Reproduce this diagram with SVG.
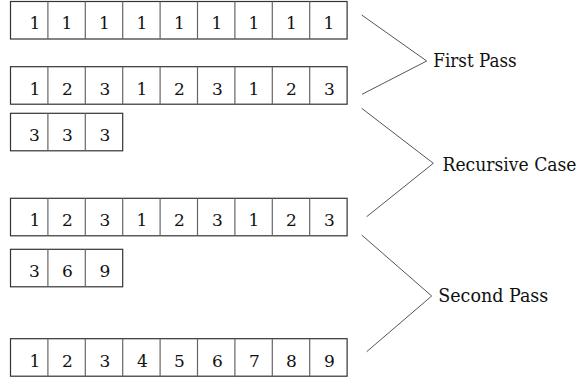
<svg xmlns="http://www.w3.org/2000/svg" width="582" height="377" viewBox="0 0 582 377">
  <style>
    .box { fill: #ffffff; stroke: #333333; stroke-width: 1.2; }
    .div { stroke: #666666; stroke-width: 1.2; }
    .num { font-family: 'DejaVu Serif', serif; font-size: 17px; fill: #111111; text-anchor: middle; }
    .lbl { font-family: 'DejaVu Serif', serif; font-size: 18px; fill: #111111; }
    .con { stroke: #555555; stroke-width: 1; fill: none; }
  </style>
  <defs>
    <!-- one 9-cell array row, 37.4px per cell -->
    <g id="row9">
      <rect class="box" x="10.5" y="0" width="336.6" height="37.5"/>
      <path class="div" d="M47.9 0V37.5M85.3 0V37.5M122.7 0V37.5M160.1 0V37.5M197.5 0V37.5M234.9 0V37.5M272.3 0V37.5M309.7 0V37.5"/>
    </g>
    <!-- three-cell count row -->
    <g id="row3">
      <rect class="box" x="10.5" y="0" width="112.2" height="37.5"/>
      <path class="div" d="M47.9 0V37.5M85.3 0V37.5"/>
    </g>
  </defs>

  <g id="input">
    <use href="#row9" y="1.5"/>
    <g transform="translate(0 28.5)">
      <text class="num" x="35">1</text><text class="num" x="67">1</text><text class="num" x="104.5">1</text><text class="num" x="142">1</text><text class="num" x="179.5">1</text><text class="num" x="217">1</text><text class="num" x="254">1</text><text class="num" x="291.5">1</text><text class="num" x="329">1</text>
    </g>
  </g>

  <g id="first-pass">
    <use href="#row9" y="66.7"/>
    <g transform="translate(0 94.5)">
      <text class="num" x="35">1</text><text class="num" x="67.5">2</text><text class="num" x="105">3</text><text class="num" x="142">1</text><text class="num" x="179.5">2</text><text class="num" x="217.5">3</text><text class="num" x="254">1</text><text class="num" x="291.5">2</text><text class="num" x="329.5">3</text>
    </g>
  </g>

  <g id="counts">
    <use href="#row3" y="113.3"/>
    <g transform="translate(0 141)">
      <text class="num" x="34.5">3</text><text class="num" x="67.5">3</text><text class="num" x="105">3</text>
    </g>
  </g>

  <g id="recursive-input">
    <use href="#row9" y="198.3"/>
    <g transform="translate(0 226)">
      <text class="num" x="35">1</text><text class="num" x="67.5">2</text><text class="num" x="105">3</text><text class="num" x="142">1</text><text class="num" x="179.5">2</text><text class="num" x="217.5">3</text><text class="num" x="254">1</text><text class="num" x="291.5">2</text><text class="num" x="329.5">3</text>
    </g>
  </g>

  <g id="prefix-sums">
    <use href="#row3" y="249.3"/>
    <g transform="translate(0 277)">
      <text class="num" x="34.5">3</text><text class="num" x="67.5">6</text><text class="num" x="105">9</text>
    </g>
  </g>

  <g id="second-pass">
    <use href="#row9" y="338.7"/>
    <g transform="translate(0 366.5)">
      <text class="num" x="35">1</text><text class="num" x="67.5">2</text><text class="num" x="105">3</text><text class="num" x="142.5">4</text><text class="num" x="179.5">5</text><text class="num" x="217.5">6</text><text class="num" x="254.5">7</text><text class="num" x="291.5">8</text><text class="num" x="329.5">9</text>
    </g>
  </g>

  <g id="connectors">
    <polyline class="con" points="361.7,15 426.7,61 362,94.3"/>
    <polyline class="con" points="361.7,108.3 433.3,163.3 366.7,216.7"/>
    <polyline class="con" points="361.7,235 431.7,296 366.7,351.7"/>
  </g>

  <g id="labels">
    <text class="lbl" x="433.3" y="66.5" textLength="83.4" lengthAdjust="spacingAndGlyphs">First Pass</text>
    <text class="lbl" x="442.5" y="171" textLength="134" lengthAdjust="spacingAndGlyphs">Recursive Case</text>
    <text class="lbl" x="438.3" y="302" textLength="110" lengthAdjust="spacingAndGlyphs">Second Pass</text>
  </g>
</svg>
